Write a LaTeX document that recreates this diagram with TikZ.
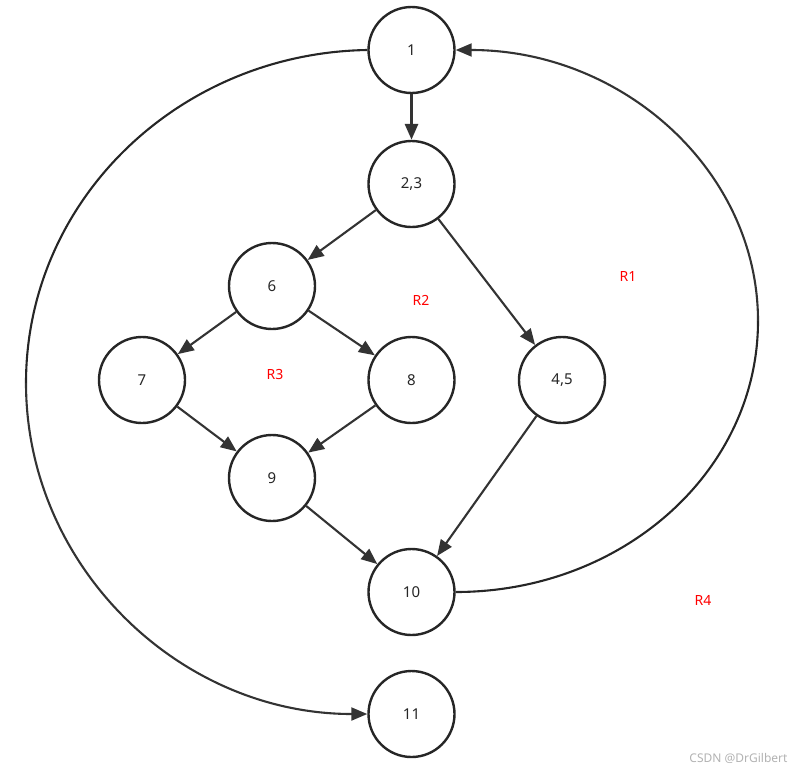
\documentclass[tikz,border=0pt]{standalone}
\usepackage{fontspec}
\setmainfont{Noto Sans}
\usetikzlibrary{arrows.meta}
\begin{document}
\begin{tikzpicture}[x=1pt,y=-1pt,
  vertex/.style={circle,draw=black!85,line width=2.4pt,minimum size=86pt,inner sep=0pt,
    font=\fontsize{15}{18}\selectfont,text=black!85},
  edge/.style={draw=black!80,line width=2.1pt,-{Triangle[length=16pt,width=13pt]}},
  plain/.style={draw=black!85,line width=2.1pt},
  region/.style={text=red,font=\fontsize{14}{16}\selectfont},
  wmark/.style={text=black!30,font=\fontsize{12}{14}\selectfont}]
\useasboundingbox (0,0) rectangle (799,771);
\node[vertex] (n1) at (411.5,50) {1};
\node[vertex] (n23) at (411.5,184) {2,3};
\node[vertex] (n6) at (272,286) {6};
\node[vertex] (n7) at (142,380) {7};
\node[vertex] (n8) at (411.5,380) {8};
\node[vertex] (n45) at (562,380) {4,5};
\node[vertex] (n9) at (272,478) {9};
\node[vertex] (n10) at (411.5,592) {10};
\node[vertex] (n11) at (411.5,714) {11};

\draw[edge,line width=3pt] (n1) -- (n23);
\draw[edge] (n23) -- (n6);
\draw[edge] (n23) -- (n45);
\draw[edge] (n6) -- (n7);
\draw[edge] (n6) -- (n8);
\draw[edge] (n7) -- (n9);
\draw[edge] (n8) -- (n9);
\draw[edge] (n9) -- (n10);
\draw[edge] (n45) -- (n10);

\coordinate (lft) at (26,383);
\coordinate (rgt) at (758,321);
\draw[plain] (n1.west) .. controls (179,53) and (26,200) .. (lft);
\draw[edge] (lft) .. controls (26,566) and (179,714) .. (n11.west);
\draw[plain] (n10.east) .. controls (623,592) and (758,471) .. (rgt);
\draw[edge] (rgt) .. controls (758,171) and (623,50) .. (n1.east);

\node[region] (r1) at (628,276) {R1};
\node[region] (r2) at (421,300) {R2};
\node[region] (r3) at (275,374) {R3};
\node[region] (r4) at (703,600) {R4};
\node[wmark,anchor=east] (wm) at (791,758) {CSDN @DrGilbert};
\end{tikzpicture}
\end{document}
